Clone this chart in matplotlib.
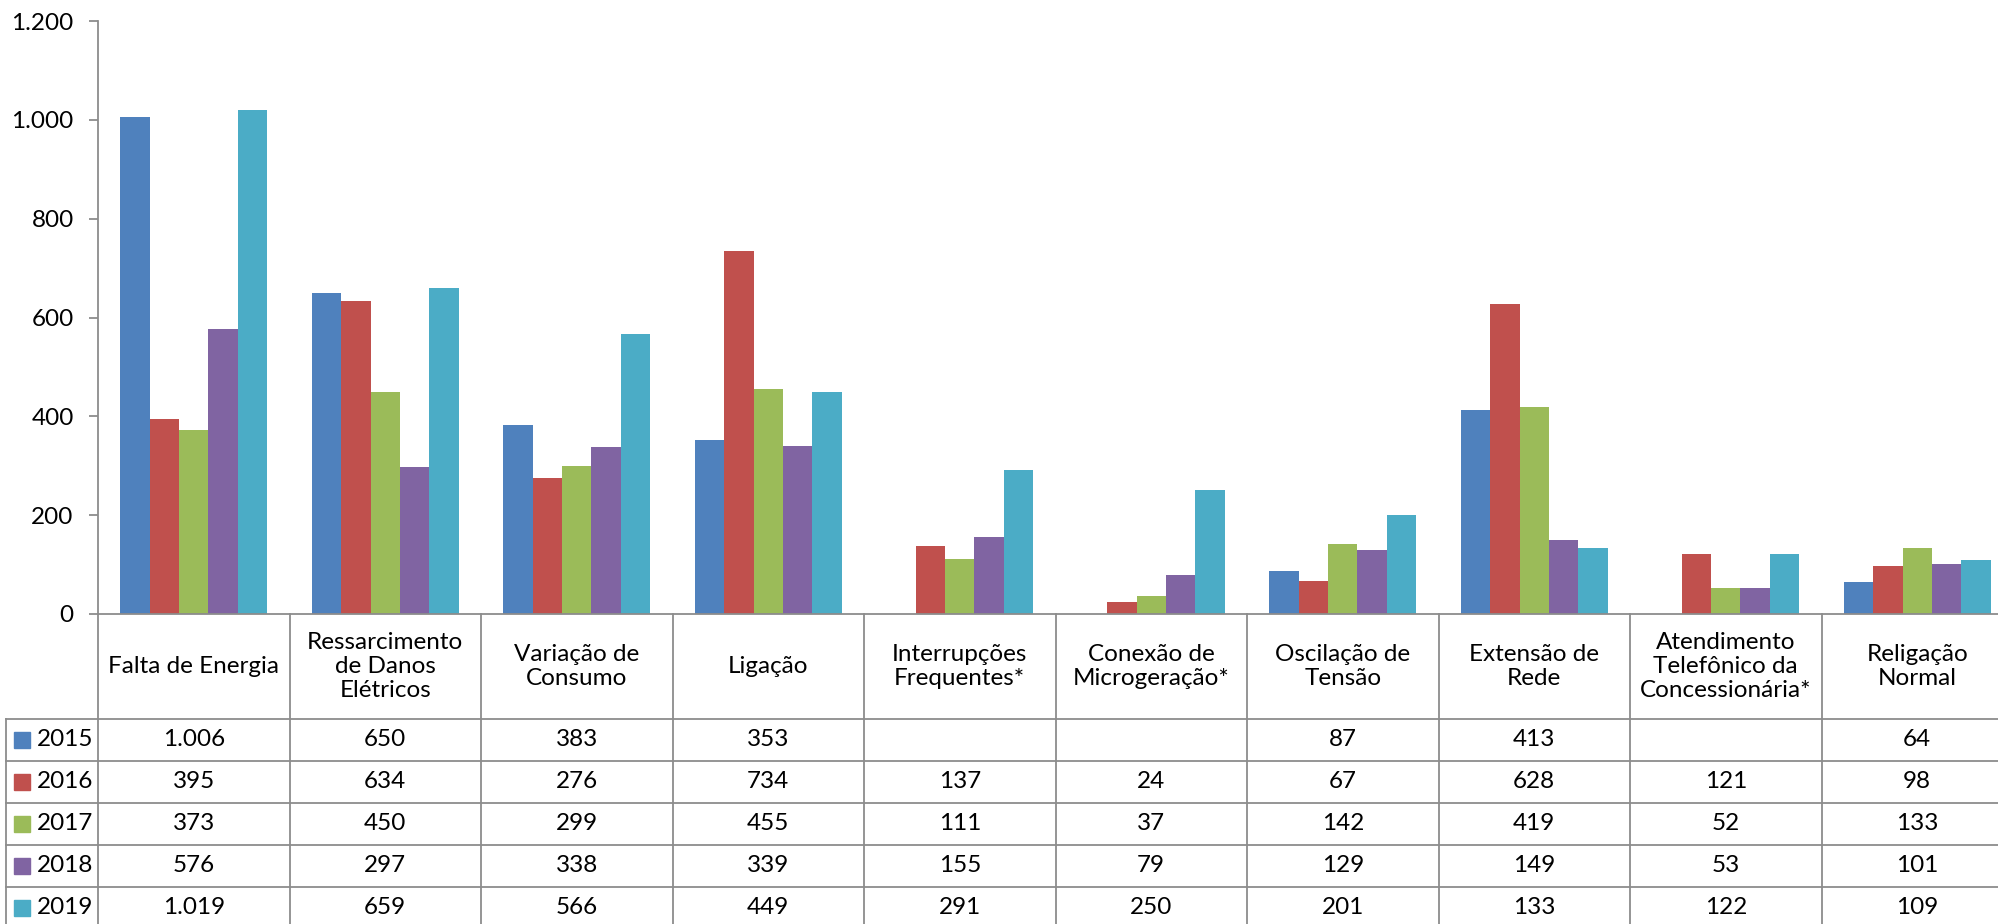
import numpy as np
import matplotlib
matplotlib.use("Agg")
import matplotlib.pyplot as plt
from matplotlib.ticker import FuncFormatter

plt.rcParams['font.family'] = ['Lato', 'DejaVu Sans']

categorias = ["Falta de Energia", "Ressarcimento\nde Danos\nElétricos", "Variação de\nConsumo",
              "Ligação", "Interrupções\nFrequentes*", "Conexão de\nMicrogeração*",
              "Oscilação de\nTensão", "Extensão de\nRede", "Atendimento\nTelefônico da\nConcessionária*",
              "Religação\nNormal"]
anos = ["2015", "2016", "2017", "2018", "2019"]

v2015 = [1006, 650, 383, 353, None, None, 87, 413, None, 64]
v2016 = [395, 634, 276, 734, 137, 24, 67, 628, 121, 98]
v2017 = [373, 450, 299, 455, 111, 37, 142, 419, 52, 133]
v2018 = [576, 297, 338, 339, 155, 79, 129, 149, 53, 101]
v2019 = [1019, 659, 566, 449, 291, 250, 201, 133, 122, 109]
series = [v2015, v2016, v2017, v2018, v2019]

cores = ["#4F81BD", "#C0504D", "#9BBB59", "#8064A2", "#4BACC6"]
cinza = "#8C8C8C"
fs = 17.5


def fmt_br(v):
    # separador de milhar com ponto
    return f"{int(v):,}".replace(",", ".")


W, H = 1999, 924
fig = plt.figure(figsize=(W / 100, H / 100), dpi=100)

# area do grafico (em pixels: x 98..2013, y 21..614)
ax = fig.add_axes([98 / W, (H - 614) / H, (2013 - 98) / W, (614 - 21) / H])
n = len(categorias)
x = np.arange(n) + 0.5
bw = 1 / 6.5
for j, (vals, cor) in enumerate(zip(series, cores)):
    alturas = [np.nan if v is None else v for v in vals]
    ax.bar(x + (j - 2) * bw, alturas, width=bw, color=cor, linewidth=0)

ax.set_xlim(0, n)
ax.set_ylim(0, 1200)
ax.set_yticks(range(0, 1201, 200))
ax.yaxis.set_major_formatter(FuncFormatter(lambda v, p: fmt_br(v)))
ax.set_xticks([])
ax.tick_params(axis="y", direction="out", length=6.5, width=1.3, color=cinza,
               labelsize=17.5, pad=11)
for s in ["top", "right"]:
    ax.spines[s].set_visible(False)
for s in ["left", "bottom"]:
    ax.spines[s].set_color(cinza)
    ax.spines[s].set_linewidth(1.3)

# tabela de dados abaixo do grafico
tab = fig.add_axes([6 / W, (H - 929) / H, (2013 - 6) / W, 315 / H])
esq = -92 / 191.5
tab.set_xlim(esq, n)
tab.set_ylim(315, 0)
tab.axis("off")

lw = 1.3
for k in range(n + 1):
    tab.plot([k, k], [0, 315], color=cinza, lw=lw, clip_on=False)
tab.plot([esq, esq], [105, 315], color=cinza, lw=lw, clip_on=False)
for yy in [105, 147, 189, 231, 273, 315]:
    tab.plot([esq, n], [yy, yy], color=cinza, lw=lw, clip_on=False)

for i, cat in enumerate(categorias):
    tab.text(i + 0.5, 52.5, cat, ha="center", va="center", fontsize=fs, linespacing=1.15)

for j, (ano, vals, cor) in enumerate(zip(anos, series, cores)):
    yc = 126 + 42 * j
    tab.plot([-76 / 191.5], [yc], marker="s", markersize=11.5, color=cor, linestyle="none")
    tab.text(-61 / 191.5, yc, ano, ha="left", va="center", fontsize=fs)
    for i, v in enumerate(vals):
        if v is not None:
            tab.text(i + 0.5, yc, fmt_br(v), ha="center", va="center", fontsize=fs)

fig.savefig("out.png", dpi=100)
